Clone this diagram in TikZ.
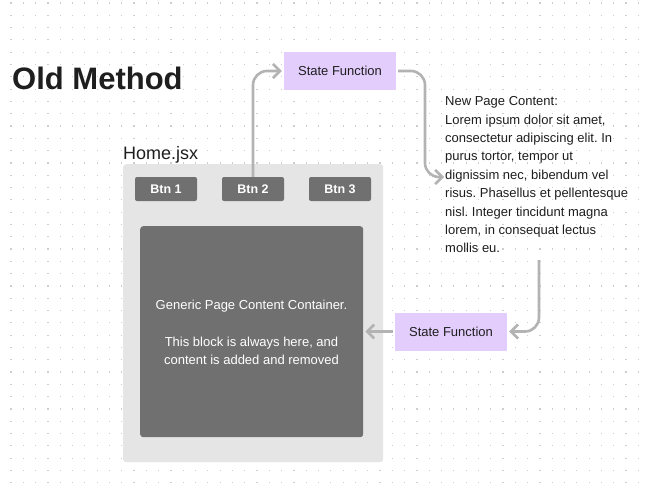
\documentclass[tikz,border=0pt]{standalone}
\usepackage{fontspec}
\setmainfont{Liberation Sans}
\usetikzlibrary{arrows.meta}
\frenchspacing
\definecolor{dotgray}{HTML}{CDCDCD}
\definecolor{panelgray}{HTML}{E5E5E5}
\definecolor{boxgray}{HTML}{707070}
\definecolor{sfpurple}{HTML}{E3CDFD}
\definecolor{inkdark}{HTML}{1E1E1E}
\definecolor{linkgray}{HTML}{B3B3B3}
\tikzset{
  sfbox/.style={fill=sfpurple, minimum width=112pt, minimum height=38pt, inner sep=0pt,
    text=inkdark, font=\fontsize{13}{15}\selectfont},
  btnbox/.style={fill=boxgray, rounded corners=2pt, minimum width=62pt, minimum height=24pt,
    inner sep=0pt, text=white, font=\bfseries\fontsize{12.5}{15}\selectfont},
  flow/.style={draw=linkgray, line width=2.6pt, rounded corners=14pt,
    -{Straight Barb[length=7pt, width=14pt, line width=2.6pt]}},
}
\begin{document}
\begin{tikzpicture}[x=1pt, y=-1pt]
  \useasboundingbox (0,0) rectangle (645,495);
  \fill[white] (0,0) rectangle (645,495);
  % dotted canvas grid
  \foreach \i in {0,...,51}{
    \foreach \j in {0,...,39}{
      \fill[dotgray] (11+12.3*\i-0.6, 3+12.3*\j-0.6) rectangle ++(1.2,1.2);
    }
  }
  % heading
  \node[anchor=base west, inner sep=0pt, text=inkdark,
        font=\bfseries\fontsize{31}{34}\selectfont] (title) at (12,89) {Old Method};
  % page component
  \node[anchor=base west, inner sep=0pt, text=inkdark,
        font=\fontsize{18}{22}\selectfont] (home) at (123,159) {Home.jsx};
  \node[fill=panelgray, rounded corners=3pt, minimum width=260pt, minimum height=298pt,
        inner sep=0pt, anchor=north west] (panel) at (123,164) {};
  \node[btnbox] (b1) at (166,189) {Btn 1};
  \node[btnbox] (b2) at (253,189) {Btn 2};
  \node[btnbox] (b3) at (340,189) {Btn 3};
  \node[fill=boxgray, rounded corners=3pt, minimum width=223pt, minimum height=211pt,
        inner sep=0pt, anchor=north west] (content) at (140,226) {};
  \node[text=white, align=center, inner sep=0pt, anchor=north,
        font=\fontsize{13}{18.5}\selectfont] (ctext) at (251.5,299.5)
        {Generic Page Content Container.\\[18.5pt]This block is always here, and\\content is added and removed};
  % state functions
  \node[sfbox] (sf1) at (340,71) {State Function};
  \node[sfbox] (sf2) at (451,331.5) {State Function};
  % new content text
  \node[anchor=north west, align=left, inner sep=0pt, text=inkdark,
        font=\fontsize{13}{18.4}\selectfont] (newtext) at (445,96.5)
        {New Page Content:\\Lorem ipsum dolor sit amet,\\consectetur adipiscing elit. In\\purus tortor, tempor ut\\dignissim nec, bibendum vel\\risus. Phasellus et pellentesque\\nisl. Integer tincidunt magna\\lorem, in consequat lectus\\mollis eu.};
  \coordinate (intext) at (444,177);
  \coordinate (belowtext) at (539,260);
  % connectors
  \draw[flow, shorten >=2pt] (b2.north) -- (b2.north |- sf1.west) -- (sf1.west);
  \draw[flow] ([xshift=2pt]sf1.east) -- (425,71) -- (425 ,177) -- (intext);
  \draw[flow, shorten >=2pt] (belowtext) -- (belowtext |- sf2.east) -- (sf2.east);
  \draw[flow, shorten <=2pt, shorten >=2pt] (sf2.west) -- (sf2.west -| content.east);
\end{tikzpicture}
\end{document}
